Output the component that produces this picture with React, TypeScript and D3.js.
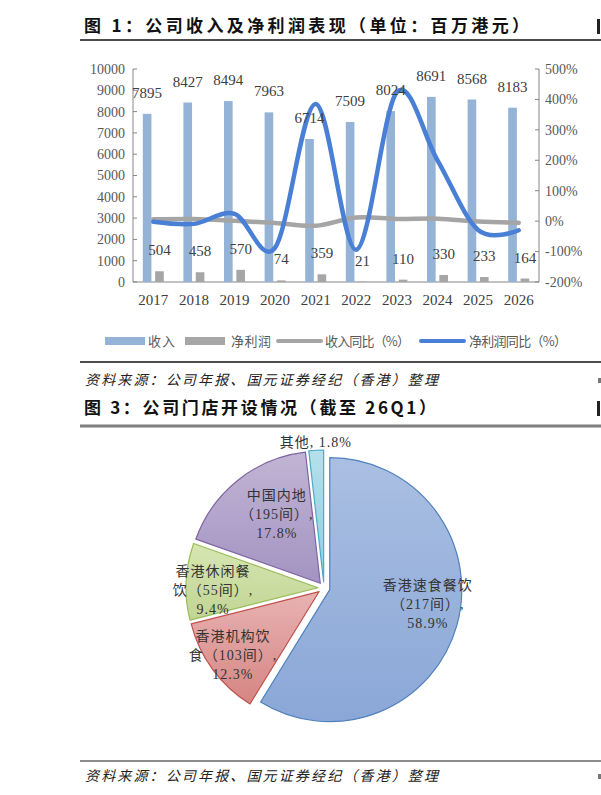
import { useEffect, useRef } from "react"
import * as d3 from "d3"

// 图 1 数据
const years = ["2017", "2018", "2019", "2020", "2021", "2022", "2023", "2024", "2025", "2026"]
const revenue = [7895, 8427, 8494, 7963, 6714, 7509, 8024, 8691, 8568, 8183]
const netProfit = [504, 458, 570, 74, 359, 21, 110, 330, 233, 164]
const revenueYoy = [6, 7, 1, -6, -15, 12, 7, 8, -1, -5]
const netProfitYoy = [-2, -9, 24, -87, 385, -94, 424, 200, -29, -30]
const leftTicks = [0, 1000, 2000, 3000, 4000, 5000, 6000, 7000, 8000, 9000, 10000]
const rightTicks = [-200, -100, 0, 100, 200, 300, 400, 500]
const legendLabels = ["收入", "净利润", "收入同比（%）", "净利润同比（%）"]

// 图 3 数据
const storeShares = [58.9, 12.3, 9.4, 17.8, 1.8]
const storeLabels = [
  ["香港速食餐饮", "（217间）,", "58.9%"],
  ["香港机构饮", "食（103间）,", "12.3%"],
  ["香港休闲餐", "饮（55间）,", "9.4%"],
  ["中国内地", "（195间）,", "17.8%"],
  ["其他, 1.8%"],
]

const FONT = "'Liberation Serif','Noto Sans CJK SC',serif"
const CJK = "'Noto Sans CJK SC','Liberation Serif',sans-serif"

export default function App() {
  const svgRef = useRef<SVGSVGElement>(null)

  useEffect(() => {
    if (!svgRef.current) return
    const svg = d3.select(svgRef.current)
    svg.selectAll("*").remove()

    const width = 601
    const height = 795
    svg.attr("width", width).attr("height", height).attr("viewBox", [0, 0, width, height])
    svg.append("rect").attr("width", width).attr("height", height).attr("fill", "#fff")

    // 标题、分隔线、资料来源
    const title = (t: string, y: number, len: number) =>
      svg.append("text").attr("x", 84).attr("y", y).attr("font-family", CJK).attr("font-weight", 700)
        .attr("font-size", 17).attr("fill", "#111").attr("textLength", len).attr("lengthAdjust", "spacing").text(t)
    const source = (y: number) =>
      svg.append("text").attr("x", 85).attr("y", y).attr("font-family", CJK).attr("font-style", "italic")
        .attr("font-size", 14).attr("fill", "#222").attr("textLength", 353).attr("lengthAdjust", "spacing")
        .text("资料来源：公司年报、国元证券经纪（香港）整理")
    const rule = (y: number, color: string, w: number) =>
      svg.append("line").attr("x1", 80).attr("x2", width).attr("y1", y).attr("y2", y)
        .attr("stroke", color).attr("stroke-width", w)

    title("图 1：公司收入及净利润表现（单位：百万港元）", 32, 445)
    rule(40, "#111", 1.5)
    rule(362, "#111", 1.5)
    source(385)
    title("图 3：公司门店开设情况（截至 26Q1）", 414, 352)
    rule(426, "#7f7f7f", 3)
    rule(761, "#8c8c8c", 2)
    source(781)
    // 右侧相邻栏被截断的残边
    ;[19, 401].forEach((y) =>
      svg.append("rect").attr("x", 597).attr("y", y).attr("width", 3).attr("height", 15).attr("fill", "#222"))
    ;[378, 774].forEach((y) =>
      svg.append("rect").attr("x", 598).attr("y", y).attr("width", 3).attr("height", 5).attr("fill", "#777"))

    // ---------- 图 1：柱线组合 ----------
    const plotL = 133
    const plotR = 539
    const plotT = 69
    const plotB = 282

    const x = d3.scaleBand().domain(years).range([plotL, plotR]).padding(0)
    const bw = x.bandwidth()
    const xs = d3.scaleBand().domain(["rev", "np"]).range([bw / 2 - 10.5, bw / 2 + 10.5]).paddingInner(0.3)
    const yL = d3.scaleLinear().domain([0, 10000]).range([plotB, plotT])
    const yR = d3.scaleLinear().domain([-200, 500]).range([plotB, plotT])
    const cx = (i: number) => (x(years[i]) as number) + bw / 2

    const g = svg.append("g")
    const axisColor = "#868686"

    // 左轴
    g.append("line").attr("x1", plotL).attr("x2", plotL).attr("y1", plotT).attr("y2", plotB).attr("stroke", axisColor)
    leftTicks.forEach((t) => {
      g.append("line").attr("x1", plotL).attr("x2", plotL + 4).attr("y1", yL(t)).attr("y2", yL(t)).attr("stroke", axisColor)
      g.append("text").attr("x", 125).attr("y", yL(t)).attr("dy", "0.35em").attr("text-anchor", "end")
        .attr("font-family", FONT).attr("font-size", 14).attr("fill", "#595959").text(t)
    })
    // 右轴
    g.append("line").attr("x1", plotR).attr("x2", plotR).attr("y1", plotT).attr("y2", plotB).attr("stroke", axisColor)
    rightTicks.forEach((t) => {
      g.append("line").attr("x1", plotR - 4).attr("x2", plotR).attr("y1", yR(t)).attr("y2", yR(t)).attr("stroke", axisColor)
      g.append("text").attr("x", 545).attr("y", yR(t)).attr("dy", "0.35em")
        .attr("font-family", FONT).attr("font-size", 14).attr("fill", "#595959").text(`${t}%`)
    })
    // 底轴
    g.append("line").attr("x1", plotL).attr("x2", plotR).attr("y1", plotB).attr("y2", plotB).attr("stroke", axisColor)
    years.forEach((yr, i) => {
      g.append("text").attr("x", cx(i)).attr("y", 305).attr("text-anchor", "middle")
        .attr("font-family", FONT).attr("font-size", 15).attr("fill", "#404040").text(yr)
    })

    // 柱
    const revColor = "#95b3d7"
    const npColor = "#a6a6a6"
    g.selectAll(".rev").data(revenue).enter().append("rect")
      .attr("x", (_, i) => (x(years[i]) as number) + (xs("rev") as number))
      .attr("y", (d) => yL(d)).attr("width", xs.bandwidth()).attr("height", (d) => plotB - yL(d))
      .attr("fill", revColor)
    g.selectAll(".np").data(netProfit).enter().append("rect")
      .attr("x", (_, i) => (x(years[i]) as number) + (xs("np") as number))
      .attr("y", (d) => yL(d)).attr("width", xs.bandwidth()).attr("height", (d) => plotB - yL(d))
      .attr("fill", npColor)

    // 折线
    const line = d3.line<number>().x((_, i) => cx(i)).y((d) => yR(d)).curve(d3.curveCardinal.tension(0))
    g.append("path").attr("d", line(revenueYoy)).attr("fill", "none").attr("stroke", "#a5a5a5")
      .attr("stroke-width", 4.5).attr("stroke-linecap", "round")
    g.append("path").attr("d", line(netProfitYoy)).attr("fill", "none").attr("stroke", "#4a7fd6")
      .attr("stroke-width", 4.5).attr("stroke-linecap", "round")

    // 数据标签
    revenue.forEach((v, i) => {
      g.append("text").attr("x", (x(years[i]) as number) + (xs("rev") as number) + xs.bandwidth() / 2)
        .attr("y", yL(v) - 16).attr("text-anchor", "middle").attr("font-family", FONT).attr("font-size", 15)
        .attr("fill", "#404040").text(v)
    })
    netProfit.forEach((v, i) => {
      g.append("text").attr("x", (x(years[i]) as number) + (xs("np") as number) + xs.bandwidth() / 2)
        .attr("y", yL(v) - 16).attr("text-anchor", "middle").attr("font-family", FONT).attr("font-size", 15)
        .attr("fill", "#404040").text(v)
    })

    // 图例
    const legend = g.append("g").attr("transform", "translate(0,341)")
    const legendItems = [
      { x: 105, kind: "rect", color: revColor, tx: 148, len: 27 },
      { x: 185, kind: "rect", color: npColor, tx: 231, len: 40 },
      { x: 278, kind: "line", color: "#a5a5a5", tx: 325, len: 85 },
      { x: 421, kind: "line", color: "#4a7fd6", tx: 469, len: 98 },
    ]
    legendItems.forEach((d, i) => {
      if (d.kind === "rect") {
        legend.append("rect").attr("x", d.x).attr("y", -4).attr("width", 40).attr("height", 8).attr("fill", d.color)
      } else {
        legend.append("line").attr("x1", d.x).attr("x2", d.x + 43).attr("y1", 0).attr("y2", 0)
          .attr("stroke", d.color).attr("stroke-width", 4).attr("stroke-linecap", "round")
      }
      legend.append("text").attr("x", d.tx).attr("y", 0).attr("dy", "0.36em").attr("font-family", CJK)
        .attr("font-size", 13).attr("fill", "#595959").attr("textLength", d.len).attr("lengthAdjust", "spacing")
        .text(legendLabels[i])
    })

    // ---------- 图 3：饼图 ----------
    const pcx = 324
    const pcy = 588
    const r = 132
    const explode = 6
    const fills = [
      ["#aabfe2", "#8aa7d7", "#4f81bd"],
      ["#e8b3b2", "#d58583", "#c0504d"],
      ["#d6e6b2", "#c1d593", "#9bbb59"],
      ["#c1b5d4", "#a393c2", "#8064a2"],
      ["#b5e0eb", "#8fcde0", "#4bacc6"],
    ]
    const defs = svg.append("defs")
    fills.forEach((f, i) => {
      const lg = defs.append("linearGradient").attr("id", `pg${i}`).attr("x1", 0).attr("y1", 0).attr("x2", 0).attr("y2", 1)
      lg.append("stop").attr("offset", "0%").attr("stop-color", f[0])
      lg.append("stop").attr("offset", "100%").attr("stop-color", f[1])
    })

    const pie = d3.pie<number>().sort(null).value((d) => d)
    const arcs = pie(storeShares)
    const arc = d3.arc<d3.PieArcDatum<number>>().innerRadius(0).outerRadius(r)
    const pg = svg.append("g").attr("transform", `translate(${pcx},${pcy})`)

    arcs.forEach((a, i) => {
      const mid = (a.startAngle + a.endAngle) / 2
      pg.append("path").attr("d", arc(a) as string)
        .attr("transform", `translate(${Math.sin(mid) * explode},${-Math.cos(mid) * explode})`)
        .attr("fill", `url(#pg${i})`).attr("stroke", fills[i][2]).attr("stroke-width", 1.2)
        .attr("stroke-linejoin", "round")
    })

    // 标签位置：半径与角度微调
    const labelPos = [
      { rad: 105, shift: -7 },
      { rad: 113, shift: 0 },
      { rad: 111, shift: -4 },
      { rad: 88, shift: 6 },
      { rad: 146, shift: 0 },
    ]
    const lineH = 19
    arcs.forEach((a, i) => {
      const ang = (a.startAngle + a.endAngle) / 2 + (labelPos[i].shift * Math.PI) / 180
      const lx = Math.sin(ang) * labelPos[i].rad
      const ly = -Math.cos(ang) * labelPos[i].rad
      const lines = storeLabels[i]
      lines.forEach((t, j) => {
        pg.append("text").attr("x", lx).attr("y", ly + (j - (lines.length - 1) / 2) * lineH).attr("dy", "0.35em")
          .attr("text-anchor", "middle").attr("font-family", FONT).attr("font-size", 14)
          .attr("letter-spacing", 1).attr("fill", "#333").text(t)
      })
    })
  }, [])

  return (
    <div style={{ position: "absolute", left: 0, top: 0 }}>
      <svg ref={svgRef} style={{ display: "block" }}></svg>
    </div>
  )
}
